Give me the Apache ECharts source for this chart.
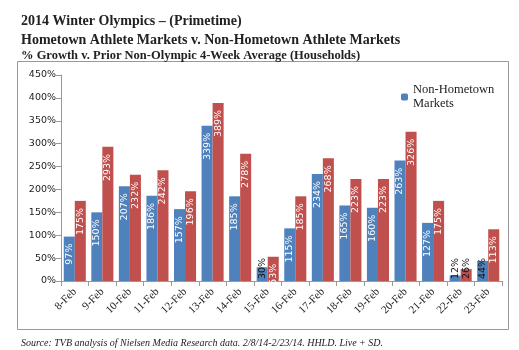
<!DOCTYPE html>
<html><head><meta charset="utf-8">
<script src="https://cdn.jsdelivr.net/npm/echarts@6/dist/echarts.min.js"></script>
<style>html,body{margin:0;padding:0;background:#fff}#c{width:519px;height:350px}</style>
</head><body><div id="c"></div>
<script>
const categories = ['8-Feb','9-Feb','10-Feb','11-Feb','12-Feb','13-Feb','14-Feb','15-Feb','16-Feb','17-Feb','18-Feb','19-Feb','20-Feb','21-Feb','22-Feb','23-Feb'];
const nonHometown = [97,150,207,186,157,339,185,30,115,234,165,160,263,127,12,44];
const hometown = [175,293,232,242,196,389,278,53,185,268,223,223,326,175,26,113];
const yTicks = [0,50,100,150,200,250,300,350,400,450];

const BLUE = '#4F81BD', RED = '#C0504D';
function mk(vals) {
  return vals.map(v => {
    if (v < 50) {
      return {value: v, label: {position: 'insideBottom', align: 'left', color: '#111', distance: 2}};
    }
    return v;
  });
}
const chart = echarts.init(document.getElementById('c'));
const lbl = {show: true, position: 'insideTop', rotate: 90, align: 'right', verticalAlign: 'middle',
  distance: 7, color: '#fff', fontFamily: 'DejaVu Sans', fontSize: 9.5, formatter: p => p.value + '%'};
chart.setOption({
  animation: false,
  title: [
    {text: '2014 Winter Olympics – (Primetime)', left: 16, top: 9, textStyle: {fontFamily: 'Liberation Serif', fontWeight: 'bold', fontSize: 14, color: '#222'}},
    {text: 'Hometown Athlete Markets v. Non-Hometown Athlete Markets', left: 16, top: 28, textStyle: {fontFamily: 'Liberation Serif', fontWeight: 'bold', fontSize: 14, color: '#222'}},
    {text: '% Growth v. Prior Non-Olympic 4-Week Average (Households)', left: 16, top: 44, textStyle: {fontFamily: 'Liberation Serif', fontWeight: 'bold', fontSize: 12.5, color: '#222'}},
    {text: 'Source: TVB analysis of Nielsen Media Research data. 2/8/14-2/23/14. HHLD. Live + SD.', left: 16, top: 333, textStyle: {fontFamily: 'Liberation Serif', fontStyle: 'italic', fontWeight: 'normal', fontSize: 10, color: '#222'}}
  ],
  graphic: [
    {type: 'rect', shape: {x: 17.5, y: 61.5, width: 491, height: 268}, style: {fill: 'none', stroke: '#999', lineWidth: 1}, z: -1}
  ],
  legend: {data: ['Non-Hometown\nMarkets'], left: 396, top: 78, itemWidth: 7, itemHeight: 7, itemGap: 4,
    textStyle: {fontFamily: 'Liberation Serif', fontSize: 12.5, color: '#222', lineHeight: 14}},
  grid: {left: 61, right: 17, top: 75, bottom: 69},
  xAxis: {type: 'category', data: categories,
    axisLine: {lineStyle: {color: '#999'}}, axisTick: {show: true, lineStyle: {color: '#999'}},
    axisLabel: {rotate: 45, fontFamily: 'Liberation Serif', fontSize: 11, color: '#222', margin: 9, interval: 0}},
  yAxis: {type: 'value', min: 0, max: 450, interval: 50,
    axisLine: {show: true, lineStyle: {color: '#999'}}, axisTick: {show: true, lineStyle: {color: '#999'}}, splitLine: {show: false},
    axisLabel: {fontFamily: 'DejaVu Sans', fontSize: 9.5, color: '#222', margin: 5,
      formatter: v => yTicks.includes(v) ? v + '%' : ''}},
  series: [
    {name: 'Non-Hometown\nMarkets', type: 'bar', data: mk(nonHometown), itemStyle: {color: BLUE}, barGap: '0%', barCategoryGap: '20%', label: lbl},
    {name: 'Hometown Markets', type: 'bar', data: mk(hometown), itemStyle: {color: RED}, label: lbl}
  ]
});
</script></body></html>
